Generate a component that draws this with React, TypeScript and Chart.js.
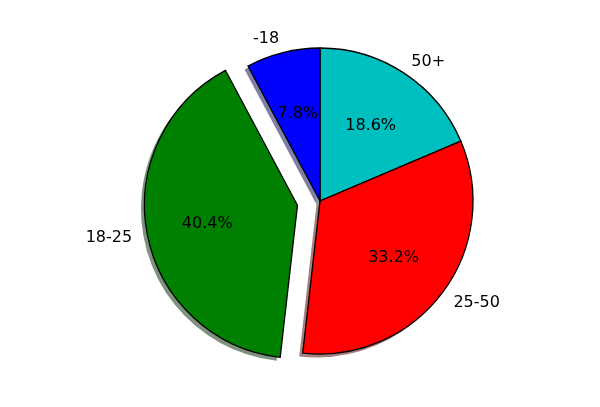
import React, { useEffect, useRef } from 'react';
import { Chart, registerables } from 'chart.js';

Chart.register(...registerables);

// Draw order is clockwise from the top (matplotlib drew counter-clockwise from the top)
const categories = ['50+', '25-50', '18-25', '-18'];
const values = [18.6, 33.2, 40.4, 7.8];
const colors = ['#00bfbf', '#ff0000', '#008000', '#0000ff'];
const explode = [0, 0, 0.15, 0];

const FONT = '16px "DejaVu Sans", sans-serif';
const SHADOW_DX = -3.5;
const SHADOW_DY = 3.5;
const TEXT_DY = 1.5;

function shadowColor(hex: string): string {
  const r = parseInt(hex.slice(1, 3), 16);
  const g = parseInt(hex.slice(3, 5), 16);
  const b = parseInt(hex.slice(5, 7), 16);
  return `rgba(${Math.round(r * 0.3)},${Math.round(g * 0.3)},${Math.round(b * 0.3)},0.5)`;
}

const mplPiePlugin = {
  id: 'mplPie',
  afterDatasetsUpdate(chart: any) {
    const meta = chart.getDatasetMeta(0);
    meta.data.forEach((arc: any, i: number) => {
      const e = explode[i];
      if (!e) return;
      const mid = (arc.startAngle + arc.endAngle) / 2;
      const d = e * arc.outerRadius;
      arc.x += Math.cos(mid) * d;
      arc.y += Math.sin(mid) * d;
    });
  },
  beforeDatasetsDraw(chart: any) {
    const ctx = chart.ctx as CanvasRenderingContext2D;
    const meta = chart.getDatasetMeta(0);
    meta.data.forEach((arc: any, i: number) => {
      const { x, y, startAngle, endAngle, outerRadius } = arc;
      ctx.save();
      ctx.beginPath();
      ctx.moveTo(x + SHADOW_DX, y + SHADOW_DY);
      ctx.arc(x + SHADOW_DX, y + SHADOW_DY, outerRadius, startAngle, endAngle);
      ctx.closePath();
      ctx.fillStyle = shadowColor(colors[i]);
      ctx.fill();
      ctx.restore();
    });
  },
  afterDatasetsDraw(chart: any) {
    const ctx = chart.ctx as CanvasRenderingContext2D;
    const meta = chart.getDatasetMeta(0);
    const total = values.reduce((a, b) => a + b, 0);
    meta.data.forEach((arc: any, i: number) => {
      const { x, y, startAngle, endAngle, outerRadius } = arc;
      const mid = (startAngle + endAngle) / 2;
      const c = Math.cos(mid);
      const s = Math.sin(mid);
      ctx.save();
      ctx.font = FONT;
      ctx.fillStyle = '#000';
      ctx.textBaseline = 'middle';
      ctx.textAlign = 'center';
      const pct = ((values[i] / total) * 100).toFixed(1) + '%';
      ctx.fillText(pct, x + c * 0.6 * outerRadius, y + s * 0.6 * outerRadius + TEXT_DY);
      ctx.textAlign = c > 0 ? 'left' : 'right';
      ctx.fillText(
        categories[i],
        x + c * 1.1 * outerRadius + (c > 0 ? -1.5 : 0),
        y + s * 1.1 * outerRadius + TEXT_DY
      );
      ctx.restore();
    });
  },
};

export default function App() {
  const canvasRef = useRef<HTMLCanvasElement | null>(null);

  useEffect(() => {
    document.body.style.margin = '0';
    const canvas = canvasRef.current;
    if (!canvas) return;
    const chart = new Chart(canvas, {
      type: 'pie',
      data: {
        labels: categories,
        datasets: [
          {
            data: values,
            backgroundColor: colors,
            borderColor: '#000000',
            borderWidth: 1.3,
            borderJoinStyle: 'miter',
            hoverOffset: 0,
          } as any,
        ],
      },
      options: {
        animation: false,
        responsive: true,
        maintainAspectRatio: false,
        radius: 153,
        rotation: 0,
        layout: { padding: { left: 40, right: 0, top: 0, bottom: 5 } },
        plugins: {
          legend: { display: false },
          tooltip: { enabled: false },
          title: { display: false },
        },
        events: [],
      } as any,
      plugins: [mplPiePlugin],
    });
    return () => chart.destroy();
  }, []);

  return (
    <div style={{ position: 'fixed', left: 0, top: 0, width: 600, height: 407, background: '#fff' }}>
      <canvas ref={canvasRef} />
    </div>
  );
}
